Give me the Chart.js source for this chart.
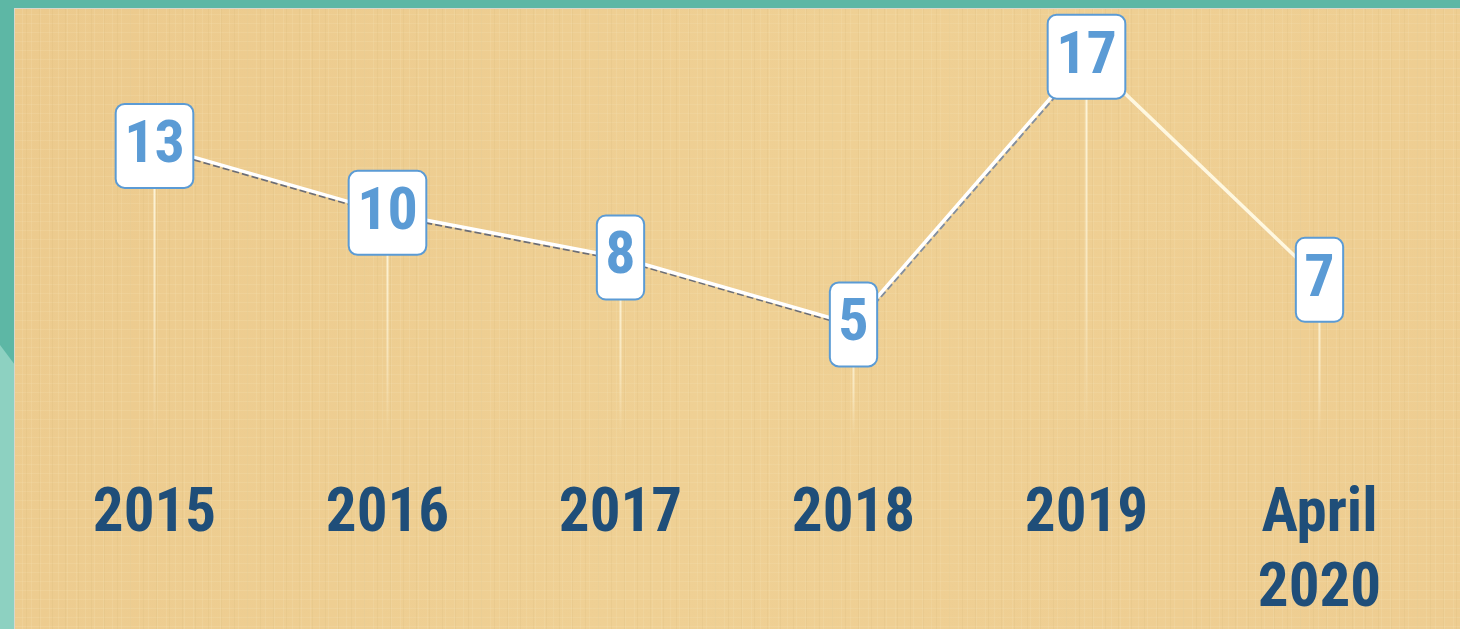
<!DOCTYPE html>
<html>
<head>
<meta charset="utf-8">
<script src="https://cdn.jsdelivr.net/npm/chart.js@4/dist/chart.umd.min.js"></script>
<style>
html,body{margin:0;padding:0;background:#5db7a5;overflow:hidden;}
#wrap{width:1460px;height:629px;position:relative;}
canvas{display:block;}
</style>
</head>
<body>
<div id="wrap"><canvas id="c" width="1460" height="629" style="width:1460px;height:629px"></canvas></div>
<script>
// ---- data ----
const categories = [['2015'], ['2016'], ['2017'], ['2018'], ['2019'], ['April', '2020']];
const cases = [13, 10, 8, 5, 17, 7];
const yRange = [0, 19];

const NARROW = '"Liberation Sans Narrow", "Arial Narrow", "Roboto Condensed", "Liberation Sans", sans-serif';

const backgroundPlugin = {
  id: 'bg',
  beforeDraw(chart) {
    const ctx = chart.ctx;
    const W = chart.width, H = chart.height;
    ctx.save();
    ctx.fillStyle = '#5db7a5';
    ctx.fillRect(0, 0, W, H);
    ctx.fillStyle = '#8dd1c1';
    ctx.beginPath();
    ctx.moveTo(0, 345); ctx.lineTo(15, 365); ctx.lineTo(15, H); ctx.lineTo(0, H); ctx.closePath();
    ctx.fill();
    ctx.fillStyle = '#d9d6cc';
    ctx.fillRect(14, 8, W - 14, H - 8);
    const g = ctx.createLinearGradient(15, 9, W, H);
    g.addColorStop(0, '#ecca8d');
    g.addColorStop(0.5, '#efd094');
    g.addColorStop(1, '#eecd91');
    ctx.fillStyle = g;
    ctx.fillRect(15, 9, W - 15, H - 9);
    ctx.globalAlpha = 0.22;
    ctx.fillStyle = '#f8e3b4';
    for (let x = 22; x < W; x += 9) ctx.fillRect(x, 9, 1, H - 9);
    for (let y = 14; y < H; y += 9) ctx.fillRect(15, y, W - 15, 1);
    ctx.globalAlpha = 0.10;
    ctx.fillStyle = '#c9a460';
    for (let x = 26; x < W; x += 13) ctx.fillRect(x, 9, 1, H - 9);
    ctx.restore();
  }
};

const dropLinePlugin = {
  id: 'dropLines',
  beforeDatasetsDraw(chart) {
    const ctx = chart.ctx;
    const meta = chart.getDatasetMeta(0);
    const y0 = chart.scales.y.getPixelForValue(0);
    ctx.save();
    meta.data.forEach(pt => {
      const g = ctx.createLinearGradient(0, pt.y, 0, y0);
      g.addColorStop(0, 'rgba(255,250,228,0.95)');
      g.addColorStop(0.6, 'rgba(255,248,222,0.55)');
      g.addColorStop(1, 'rgba(255,248,222,0)');
      ctx.strokeStyle = g;
      ctx.lineWidth = 2;
      ctx.beginPath();
      ctx.moveTo(pt.x, pt.y);
      ctx.lineTo(pt.x, y0);
      ctx.stroke();
    });
    ctx.restore();
  }
};

const shadowShift = {
  id: 'shadowShift',
  beforeDatasetDraw(chart, args) {
    if (args.index === 1) { chart.ctx.save(); chart.ctx.translate(1, 2.5); }
  },
  afterDatasetDraw(chart, args) {
    if (args.index === 1) { chart.ctx.restore(); }
  }
};

const boxLabels = {
  id: 'boxLabels',
  afterDatasetsDraw(chart) {
    const ctx = chart.ctx;
    const meta = chart.getDatasetMeta(0);
    ctx.save();
    ctx.font = 'bold 60px ' + NARROW;
    ctx.textAlign = 'center';
    ctx.textBaseline = 'middle';
    meta.data.forEach((pt, i) => {
      const txt = String(cases[i]);
      const w = ctx.measureText(txt).width + 17;
      const h = 84;
      const x = pt.x - w / 2, y = pt.y - h / 2;
      ctx.beginPath();
      if (ctx.roundRect) ctx.roundRect(x, y, w, h, 9); else ctx.rect(x, y, w, h);
      ctx.fillStyle = '#ffffff';
      ctx.fill();
      ctx.lineWidth = 2;
      ctx.strokeStyle = '#5b9bd5';
      ctx.stroke();
      ctx.fillStyle = '#5b9bd5';
      ctx.fillText(txt, pt.x, pt.y + 1);
    });
    ctx.restore();
  }
};

new Chart(document.getElementById('c'), {
  type: 'line',
  data: {
    labels: categories,
    datasets: [
      {
        data: cases,
        borderColor: '#ffffff',
        borderWidth: 3.5,
        pointRadius: 0,
        tension: 0,
        fill: false,
        segment: {
          borderColor: c => c.p1DataIndex === 5 ? 'rgba(255,250,228,0.95)' : '#ffffff'
        }
      },
      {
        data: cases,
        borderColor: 'rgba(75,85,110,0.8)',
        borderWidth: 2.5,
        borderDash: [7, 3],
        pointRadius: 0,
        tension: 0,
        fill: false,
        segment: {
          borderColor: c => c.p1DataIndex === 5 ? 'rgba(225,190,170,0.35)' : (c.p1DataIndex === 4 ? 'rgba(95,120,160,0.75)' : 'rgba(75,85,110,0.8)')
        }
      }
    ]
  },
  options: {
    responsive: false,
    animation: false,
    events: [],
    layout: { padding: { left: 38, right: 24, top: 12, bottom: 9 } },
    plugins: { legend: { display: false }, tooltip: { enabled: false } },
    scales: {
      x: {
        type: 'category',
        offset: true,
        grid: { display: false, drawTicks: false },
        border: { display: false },
        afterFit(scale) { scale.height = 184; },
        ticks: {
          color: '#1f4e79',
          padding: 43,
          maxRotation: 0,
          autoSkip: false,
          font: { family: NARROW, size: 61, weight: 'bold', lineHeight: 1.22 }
        }
      },
      y: {
        display: false,
        min: yRange[0],
        max: yRange[1]
      }
    }
  },
  plugins: [backgroundPlugin, dropLinePlugin, shadowShift, boxLabels]
});
</script>
</body>
</html>
